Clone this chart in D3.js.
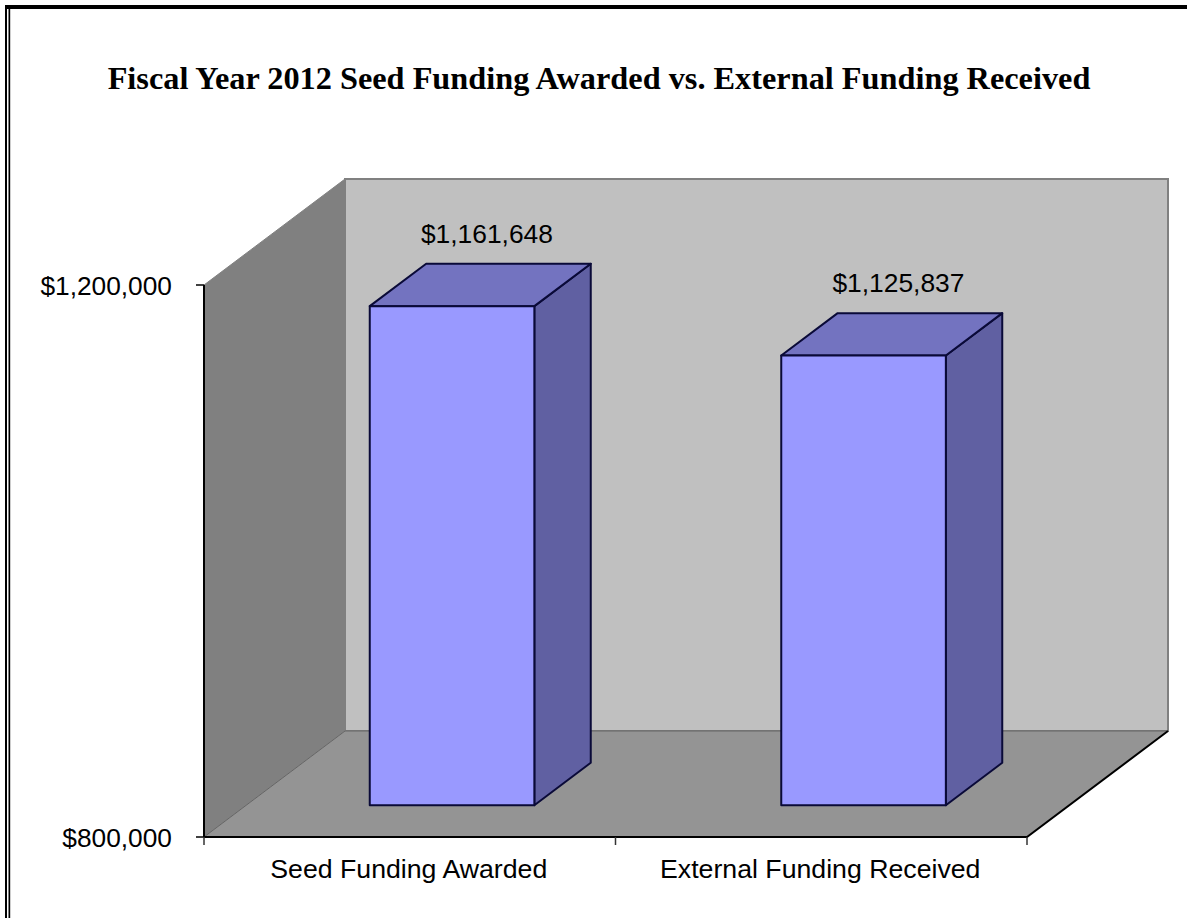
<!DOCTYPE html>
<html><head><meta charset="utf-8">
<script src="https://cdnjs.cloudflare.com/ajax/libs/d3/7.8.5/d3.min.js"></script>
<style>html,body{margin:0;padding:0;background:#fff;overflow:hidden}svg{display:block}</style>
</head><body><svg id="c" width="1187" height="918"></svg>
<script>
const titleText = "Fiscal Year 2012 Seed Funding Awarded vs. External Funding Received";
const categories = ["Seed Funding Awarded", "External Funding Received"];
const values = [1161648, 1125837];
const valueLabels = ["$1,161,648", "$1,125,837"];
const yTicks = [800000, 1200000];
const yTickLabels = ["$800,000", "$1,200,000"];

const svg = d3.select("#c");
const sans = "'Liberation Sans', Arial, sans-serif";
const serif = "'Liberation Serif', 'Times New Roman', serif";

// page frame
svg.append("rect").attr("x",5).attr("y",5).attr("width",1182).attr("height",4).attr("fill","#000");
svg.append("rect").attr("x",5).attr("y",5).attr("width",2).attr("height",913).attr("fill","#000");
svg.append("rect").attr("x",8.5).attr("y",5).attr("width",1.7).attr("height",913).attr("fill","#000");

svg.append("text").attr("x",599).attr("y",89).attr("text-anchor","middle")
  .attr("font-family",serif).attr("font-weight","bold").attr("font-size",32.3).attr("fill","#000").text(titleText);

// scales
const x = d3.scaleBand().domain(categories).range([204,1027]).paddingInner(0).paddingOuter(0);
const y = d3.scaleLinear().domain([800000,1200000]).range([837,285]);
const zx = d3.scaleLinear().domain([0,1]).range([0,141]);
const zy = d3.scaleLinear().domain([0,1]).range([0,-106]);
const P = (px,py,z)=>[px+zx(z),py+zy(z)];
const poly = pts => "M"+pts.map(p=>p.join(",")).join("L")+"Z";

const [xL,xR] = x.range();
const yB = y(yTicks[0]), yT = y(yTicks[1]);

// walls and floor
svg.append("path").attr("d",poly([P(xL,yT,1),P(xR,yT,1),P(xR,yB,1),P(xL,yB,1)]))
  .attr("fill","#c0c0c0").attr("stroke","#808080").attr("stroke-width",2);
svg.append("path").attr("d",poly([P(xL,yT,0),P(xL,yT,1),P(xL,yB,1),P(xL,yB,0)]))
  .attr("fill","#808080").attr("stroke","#808080").attr("stroke-width",1);
svg.append("path").attr("d",poly([P(xL,yB,0),P(xR,yB,0),P(xR,yB,1),P(xL,yB,1)]))
  .attr("fill","#949494").attr("stroke","#666").attr("stroke-width",1);

// axes edges
svg.append("path").attr("d",`M${P(xL,yB,0)}L${P(xR,yB,0)}L${P(xR,yB,1)}`).attr("fill","none").attr("stroke","#000").attr("stroke-width",2);
svg.append("path").attr("d",`M${P(xL,yT,0)}L${P(xL,yB,0)}`).attr("fill","none").attr("stroke","#000").attr("stroke-width",2);

// ticks
svg.selectAll("line.yt").data(yTicks).join("line").attr("class","yt")
  .attr("x1",xL-8).attr("x2",xL).attr("y1",d=>y(d)).attr("y2",d=>y(d)).attr("stroke","#000").attr("stroke-width",1.5);
svg.selectAll("text.yl").data(yTicks).join("text").attr("class","yl")
  .attr("x",172).attr("y",d=>y(d)+9.7).attr("text-anchor","end")
  .attr("font-family",sans).attr("font-size",26.3).attr("fill","#000")
  .text((d,i)=>yTickLabels[i]);
const xEdges = [xL, x(categories[1]), xR];
svg.selectAll("line.xt").data(xEdges).join("line").attr("class","xt")
  .attr("x1",d=>d).attr("x2",d=>d).attr("y1",yB).attr("y2",yB+8).attr("stroke","#333").attr("stroke-width",1.5);
svg.selectAll("text.xl").data(categories).join("text").attr("class","xl")
  .attr("x",d=>x(d)+x.bandwidth()/2-1).attr("y",877.5).attr("text-anchor","middle")
  .attr("font-family",sans).attr("font-size",26.7).attr("fill","#000").text(d=>d);

// 3D bars
const z0=0.3, z1=0.7, barFrac=0.4;
const barStroke = "#0a0a38";
const g = svg.selectAll("g.bar").data(categories).join("g").attr("class","bar");
g.each(function(c,i){
  const s=d3.select(this);
  const w=x.bandwidth()*barFrac;
  const l=x(c)+(x.bandwidth()-w)/2, r=l+w;
  const t=y(values[i]);
  s.append("path").attr("d",poly([P(r,yB,z0),P(r,yB,z1),P(r,t,z1),P(r,t,z0)]))
    .attr("fill","#6060a2").attr("stroke",barStroke).attr("stroke-width",2).attr("stroke-linejoin","round");
  s.append("path").attr("d",poly([P(l,t,z0),P(r,t,z0),P(r,t,z1),P(l,t,z1)]))
    .attr("fill","#7373c0").attr("stroke",barStroke).attr("stroke-width",2).attr("stroke-linejoin","round");
  s.append("path").attr("d",poly([P(l,yB,z0),P(r,yB,z0),P(r,t,z0),P(l,t,z0)]))
    .attr("fill","#9999ff").attr("stroke",barStroke).attr("stroke-width",2).attr("stroke-linejoin","round");
  const [mx,my]=P((l+r)/2,t,z1);
  s.append("text").attr("x",mx-21.5).attr("y",my-21).attr("text-anchor","middle")
    .attr("font-family",sans).attr("font-size",26.4).attr("fill","#000").text(valueLabels[i]);
});
</script></body></html>
